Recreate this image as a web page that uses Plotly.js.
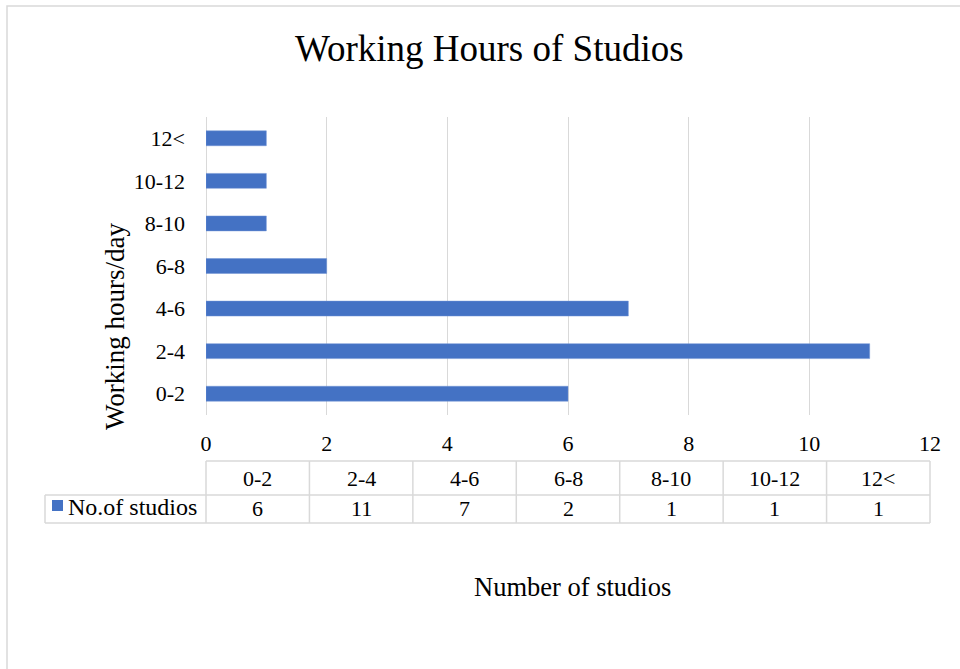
<!DOCTYPE html>
<html>
<head>
<meta charset="utf-8">
<script src="https://cdn.plot.ly/plotly-3.0.1.min.js"></script>
<style>html,body{margin:0;padding:0;background:#fff;}#chart{width:960px;height:669px;}</style>
</head>
<body>
<div id="chart"></div>
<script>
var categories = ['0-2', '2-4', '4-6', '6-8', '8-10', '10-12', '12<'];
var studios = [6, 11, 7, 2, 1, 1, 1];
var seriesName = 'No.of studios';
var chartTitle = 'Working Hours of Studios';
var xTitle = 'Number of studios';
var yTitle = 'Working hours/day';

var W = 960, H = 669;
var L = 206, R = 30, T = 117, B = 254;
var PW = W - L - R, PH = H - T - B;
function px(x) { return (x - L) / PW; }
function py(y) { return (H - B - y) / PH; }

var FONT = 'Liberation Serif, Times New Roman, serif';
var GRID = '#d9d9d9';
var BLUE = '#4472C4';

var trace = {
  type: 'bar',
  orientation: 'h',
  y: categories,
  x: studios,
  name: seriesName,
  width: 0.35,
  marker: {color: BLUE, line: {color: '#6f93d4', width: 0.5}},
  hoverinfo: 'x+y'
};

var shapes = [];
var annotations = [];
function line(x0, y0, x1, y1) {
  shapes.push({type: 'line', xref: 'paper', yref: 'paper',
    x0: px(x0), y0: py(y0), x1: px(x1), y1: py(y1),
    line: {color: GRID, width: 1.5}});
}
// outer chart border
shapes.push({type: 'rect', xref: 'paper', yref: 'paper',
  x0: px(7), y0: py(6), x1: px(975), y1: py(690),
  line: {color: GRID, width: 1.5}, fillcolor: 'rgba(0,0,0,0)'});

// data table
var rowTop = 461, rowMid = 495, rowBot = 523, tableLeft = 45;
var n = categories.length;
line(L, rowTop, L + PW, rowTop);
line(tableLeft, rowMid, L + PW, rowMid);
line(tableLeft, rowBot, L + PW, rowBot);
line(tableLeft, rowMid, tableLeft, rowBot);
for (var i = 0; i <= n; i++) {
  var xb = L + PW * i / n;
  line(xb, rowTop, xb, rowBot);
}
for (var j = 0; j < n; j++) {
  var xc = (j + 0.5) / n;
  annotations.push({xref: 'paper', yref: 'paper', x: xc, y: py((rowTop + rowMid) / 2),
    text: categories[j], showarrow: false, xanchor: 'center', yanchor: 'middle',
    font: {family: FONT, size: 22, color: '#000'}});
  annotations.push({xref: 'paper', yref: 'paper', x: xc, y: py((rowMid + rowBot) / 2),
    text: String(studios[j]), showarrow: false, xanchor: 'center', yanchor: 'middle',
    font: {family: FONT, size: 22, color: '#000'}});
}
// legend key in table
shapes.push({type: 'rect', xref: 'paper', yref: 'paper',
  x0: px(52), y0: py(500), x1: px(63), y1: py(511),
  line: {width: 0}, fillcolor: BLUE});
annotations.push({xref: 'paper', yref: 'paper', x: px(66), y: py(507),
  text: seriesName, showarrow: false, xanchor: 'left', yanchor: 'middle',
  font: {family: FONT, size: 24, color: '#000'}});

// titles
annotations.push({xref: 'paper', yref: 'paper', x: px(489), y: py(48),
  text: chartTitle, showarrow: false, xanchor: 'center', yanchor: 'middle',
  font: {family: FONT, size: 37, color: '#000'}});
annotations.push({xref: 'paper', yref: 'paper', x: px(572), y: py(587),
  text: xTitle, showarrow: false, xanchor: 'center', yanchor: 'middle',
  font: {family: FONT, size: 26.5, color: '#000'}});
annotations.push({xref: 'paper', yref: 'paper', x: px(115), y: py(326),
  text: yTitle, showarrow: false, xanchor: 'center', yanchor: 'middle', textangle: -90,
  font: {family: FONT, size: 27, color: '#000'}});

var layout = {
  width: W, height: H,
  margin: {l: L, r: R, t: T, b: B, pad: 0},
  paper_bgcolor: '#fff', plot_bgcolor: '#fff',
  showlegend: false,
  bargap: 0.65,
  xaxis: {
    range: [0, 12], dtick: 2, tick0: 0,
    showgrid: true, gridcolor: GRID, gridwidth: 1,
    zeroline: true, zerolinecolor: GRID, zerolinewidth: 1,
    showline: false, ticks: '', ticklabelstandoff: 13,
    tickfont: {family: FONT, size: 22, color: '#000'},
    fixedrange: true
  },
  yaxis: {
    type: 'category', categoryorder: 'array', categoryarray: categories,
    range: [-0.5, categories.length - 0.5],
    showgrid: false, zeroline: false, showline: false, ticks: '',
    ticklabelstandoff: 20,
    tickfont: {family: FONT, size: 22, color: '#000'},
    fixedrange: true
  },
  shapes: shapes,
  annotations: annotations
};

Plotly.newPlot('chart', [trace], layout, {displayModeBar: false, staticPlot: true});
</script>
</body>
</html>
